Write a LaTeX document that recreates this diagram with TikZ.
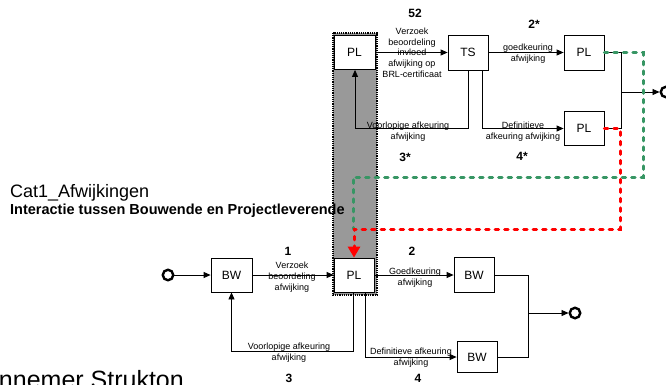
\documentclass[tikz,border=0pt]{standalone}
\usepackage{fontspec}
\setmainfont{Liberation Sans}
\usetikzlibrary{arrows.meta,calc}
\definecolor{pgreen}{RGB}{55,150,100}
\definecolor{colgray}{RGB}{153,153,153}
\begin{document}
\begin{tikzpicture}[x=1pt,y=-1pt,
  box/.style={draw,fill=white,line width=0.8pt,inner sep=0,font=\fontsize{12}{14}\selectfont},
  lbl/.style={inner sep=0,align=center,font=\fontsize{9}{10.7}\selectfont},
  num/.style={inner sep=0,font=\fontsize{12}{14}\selectfont\bfseries},
  con/.style={line width=0.8pt},
  arr/.style={con,-{Triangle[length=7pt,width=6pt]}},
  ring/.style={circle,draw,line width=2.4pt,minimum size=10.5pt,inner sep=0,fill=white},
  gdash/.style={draw=pgreen,line width=3pt,line cap=round,dash pattern=on 3.5pt off 6pt},
  rdash/.style={draw=red,line width=3pt,line cap=round,dash pattern=on 3.5pt off 6pt},
]
\useasboundingbox (0,0) rectangle (666,384);

% gray column
\fill[colgray] (333,33) rectangle (377,295);
\draw[line width=1.2pt,densely dotted] (333,33) rectangle (377,295);

% titles
\node[anchor=base west,inner sep=0,font=\fontsize{18}{20}\selectfont] (title) at (10,197) {Cat1\_Afwijkingen};
\node[anchor=base west,inner sep=0,font=\fontsize{14.5}{16}\selectfont\bfseries] (sub) at (10,214) {Interactie tussen Bouwende en Projectleverende};
\node[anchor=base east,inner sep=0,font=\fontsize{25}{28}\selectfont] (foot) at (184,388) {Aannemer Strukton};

% boxes upper
\node[box,minimum width=41pt,minimum height=34pt] (pl0) at (354.5,52.5) {PL};
\node[box,minimum width=40pt,minimum height=35pt] (ts) at (468,52.5) {TS};
\node[box,minimum width=40pt,minimum height=35pt] (pla) at (584,52.5) {PL};
\node[box,minimum width=40pt,minimum height=34pt] (plb) at (584,128.5) {PL};
\node[ring] (endr) at (666,92) {};

% boxes lower
\node[ring] (start) at (168,275) {};
\node[box,minimum width=41pt,minimum height=34pt] (bw1) at (231.5,275) {BW};
\node[box,minimum width=40pt,minimum height=34pt] (pl) at (354,275) {PL};
\node[box,minimum width=40pt,minimum height=35pt] (bw2) at (474,275) {BW};
\node[box,minimum width=40pt,minimum height=31pt] (bw3) at (477,357) {BW};
\node[ring] (endl) at (575,313) {};

% upper connectors
\draw[arr] (pl0) -- (ts);
\draw[arr] (ts) -- (pla);
\coordinate (t3) at (355,128.5);
\draw[arr] (ts.south) |- (t3) -- (t3 |- pl0.south);
\coordinate (t4) at (482,128.5);
\draw[arr] (t4 |- ts.south) |- (plb);
\coordinate (j) at (621,92);
\draw[con] (pla) -| (j);
\draw[con] (plb) -| (j);
\draw[arr] (j) -- (endr);

% lower connectors
\draw[arr] (start) -- (bw1);
\draw[arr] (bw1) -- (pl);
\draw[arr] (pl) -- (bw2);
\coordinate (v3) at (353,351);
\draw[arr] (v3 |- pl.south) -- (v3) -| (bw1);
\coordinate (v4) at (365,357);
\draw[arr] (v4 |- pl.south) |- (bw3);
\coordinate (m) at (528,313);
\draw[con] (bw2) -| (m);
\draw[con] (bw3) -| (m);
\draw[arr] (m) -- (endl);

% labels upper
\node[num] (n52) at (415,13) {52};
\node[lbl] (l52) at (412,52.6) {Verzoek\\beoordeling\\invloed\\afwijking op\\BRL-certificaat};
\node[num] (n2s) at (534,24) {2*};
\node[lbl] (l2s) at (528,53.5) {goedkeuring\\afwijking};
\node[lbl] (l3s) at (408,131.5) {Voorlopige afkeuring\\afwijking};
\node[num] (n3s) at (405,157) {3*};
\node[lbl] (l4s) at (523,131.5) {Definitieve\\afkeuring afwijking};
\node[num] (n4s) at (522,156) {4*};

% labels lower
\node[num] (n1) at (288,251) {1};
\node[lbl] (l1) at (292,277) {Verzoek\\beoordeling\\afwijking};
\node[num] (n2) at (412,251) {2};
\node[lbl] (l2) at (415,277.5) {Goedkeuring\\afwijking};
\node[lbl] (l3) at (289,352.5) {Voorlopige afkeuring\\afwijking};
\node[num] (n3) at (289,378) {3};
\node[lbl] (l4) at (411,357.5) {Definitieve afkeuring\\afwijking};
\node[num] (n4) at (418,378) {4};

% dotted flows
\coordinate (g1) at (643,52.5);
\coordinate (g2) at (643,177);
\coordinate (g3) at (353,177);
\coordinate (g4) at (353,229);
\draw[gdash] (pla.east) -- (g1) -- (g2) -- (g3) -- (g4);
\coordinate (r1) at (620,128.5);
\coordinate (r2) at (620,229);
\coordinate (r3) at (354,229);
\draw[rdash,-{Triangle[length=11pt,width=12pt]}] (plb.east) -- (r1) -- (r2) -- (r3) -- (r3 |- pl.north);
\end{tikzpicture}
\end{document}
